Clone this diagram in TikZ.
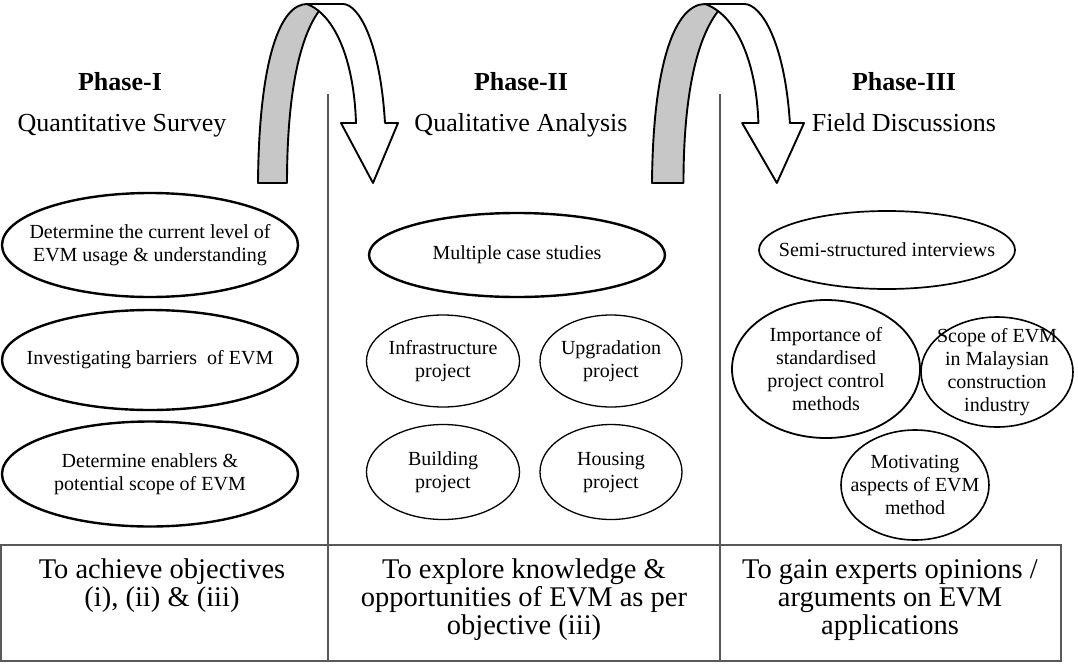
\documentclass[tikz,border=0pt]{standalone}
\usepackage{fontspec}
\setmainfont{Liberation Serif}
\usetikzlibrary{shapes.geometric}
\newcommand\uturnarrow{%
  \draw[arrowline, fill=black!22] (258,183) .. controls (259,60) and (280,4) .. (307,4)
     -- (322,6) -- (319,11) .. controls (298,40) and (287,100) .. (287,183) -- cycle;
  \draw[arrowline, fill=white] (307,4) -- (343,4) .. controls (358,4) and (380,40) .. (385,123)
     -- (398,123) -- (373,183) -- (341,123) -- (356,123)
     .. controls (354,60) and (335,15) .. (307,4) -- cycle;
}
\begin{document}
\begin{tikzpicture}[x=1pt,y=-1pt,
  ellA/.style={draw, ellipse, inner sep=0pt, line width=2.4pt},
  ellB/.style={draw, ellipse, inner sep=0pt, line width=1.3pt},
  etxt/.style={font=\fontsize{20}{23}\selectfont, align=center, inner sep=0pt},
  phasehead/.style={font=\fontsize{26}{30}\selectfont\bfseries, anchor=base, inner sep=0pt},
  phasesub/.style={font=\fontsize{26}{30}\selectfont, anchor=base, inner sep=0pt},
  bottomtxt/.style={font=\fontsize{28.5}{28}\selectfont, align=center, anchor=north, inner sep=0pt},
  divline/.style={draw=black!65, line width=1.4pt},
  arrowline/.style={draw=black, line width=1.9pt, line join=round},
]
\useasboundingbox (0,0) rectangle (1078,664);

% dividers and table
\draw[divline] (328,94) -- (328,661);
\draw[divline] (720,94) -- (720,661);
\draw[divline] (1,545) rectangle (1061,661);

% U-turn arrows
\uturnarrow
\begin{scope}[xshift=371.8pt, xscale=1.086]
  \uturnarrow
\end{scope}

% headings
\node[phasehead] (h1) at (120,90) {Phase-I};
\node[phasesub] (s1) at (122,131) {Quantitative Survey};
\node[phasehead] (h2) at (521,90) {Phase-II};
\node[phasesub] (s2) at (521,131) {Qualitative Analysis};
\node[phasehead] (h3) at (904,90) {Phase-III};
\node[phasesub] (s3) at (904,131) {Field Discussions};

% Phase I ellipses
\node[ellA, minimum width=296, minimum height=104,
  label={[etxt]center:Determine the current level of\\EVM usage \& understanding}] (e1) at (150,245) {};
\node[ellA, minimum width=296, minimum height=100,
  label={[etxt]center:Investigating barriers\ \ of EVM}] (e2) at (150,360) {};
\node[ellA, minimum width=296, minimum height=105,
  label={[etxt]center:Determine enablers \&\\potential scope of EVM}] (e3) at (150,474) {};

% Phase II ellipses
\node[ellA, minimum width=296, minimum height=84,
  label={[etxt]center:Multiple case studies}] (m1) at (517,255) {};
\node[ellB, minimum width=153, minimum height=92,
  label={[etxt]center:Infrastructure\\project}] (m2) at (443,361) {};
\node[ellB, minimum width=142, minimum height=92,
  label={[etxt]center:Upgradation\\project}] (m3) at (611,361) {};
\node[ellB, minimum width=153, minimum height=95,
  label={[etxt]center:Building\\project}] (m4) at (443,472) {};
\node[ellB, minimum width=142, minimum height=95,
  label={[etxt]center:Housing\\project}] (m5) at (611,472) {};

% Phase III ellipses
\node[ellB, line width=1.7pt, minimum width=256, minimum height=78,
  label={[etxt]center:Semi-structured interviews}] (f1) at (887,250) {};
\node[ellB, line width=1.8pt, minimum width=188, minimum height=138,
  label={[etxt]center:Importance of\\standardised\\project control\\methods}] (f2) at (826,369) {};
\node[ellB, line width=1.6pt, minimum width=152, minimum height=110,
  label={[etxt]center:Scope of EVM\\in Malaysian\\construction\\industry}] (f3) at (997,372) {};
\node[ellB, line width=1.6pt, minimum width=148, minimum height=110,
  label={[etxt]center:Motivating\\aspects of EVM\\method}] (f4) at (915,485) {};

% bottom table texts
\node[bottomtxt] (b1) at (162,559) {To achieve objectives\\(i), (ii) \& (iii)};
\node[bottomtxt] (b2) at (524,559) {To explore knowledge \&\\opportunities of EVM as per\\objective (iii)};
\node[bottomtxt] (b3) at (890,559) {To gain experts opinions /\\arguments on EVM\\applications};
\end{tikzpicture}
\end{document}
